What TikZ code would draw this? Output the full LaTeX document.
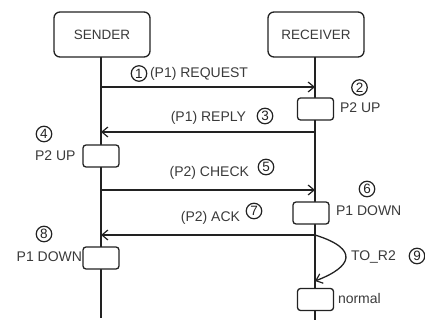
\documentclass[tikz,border=0pt]{standalone}
\usepackage{fontspec}
\setmainfont{Liberation Sans}
\usetikzlibrary{arrows.meta}
\definecolor{ink}{HTML}{222222}
\definecolor{txt}{HTML}{3A3A3A}
\begin{document}
\begin{tikzpicture}[x=1pt,y=-1pt,
  every node/.style={inner sep=0pt,outer sep=0pt},
  actor/.style={draw=ink,line width=1.3pt,rounded corners=6pt,fill=white,minimum width=96pt,minimum height=45pt,text=txt,font=\fontsize{13.5}{15}\selectfont},
  state/.style={draw=ink,line width=1.3pt,rounded corners=3pt,fill=white,minimum width=36pt,minimum height=22pt},
  life/.style={draw=ink,line width=1.3pt},
  msg/.style={draw=ink,line width=1.3pt,-{Straight Barb[length=6pt,width=10pt,line width=1.2pt]}},
  lbl/.style={text=txt,font=\fontsize{14}{16}\selectfont},
  num/.style={draw=ink,circle,line width=1.2pt,minimum size=15.5pt,text=ink,font=\fontsize{13.5}{14}\selectfont}]
\useasboundingbox (0,0) rectangle (425,320);
% actors
\node[actor] (snd) at (102,34.5) {SENDER};
\node[actor] (rcv) at (316,34.5) {RECEIVER};
% lifeline coordinates
\coordinate (sEnd) at (101,318);
\coordinate (rEnd) at (315,320);
\coordinate (s1) at (101,87);  \coordinate (r1) at (315,87);
\coordinate (s3) at (101,132); \coordinate (r3) at (315,132);
\coordinate (s5) at (101,190); \coordinate (r5) at (315,190);
\coordinate (s7) at (101,235); \coordinate (r7) at (315,235);
\coordinate (r9) at (315,281);
\draw[life] (snd.south -| sEnd) -- (sEnd);
\draw[life] (rcv.south -| rEnd) -- (rEnd);
% messages
\draw[msg] (s1) -- (r1);
\draw[msg] (r3) -- (s3);
\draw[msg] (s5) -- (r5);
\draw[msg] (r7) -- (s7);
\draw[msg] (r7) .. controls (360,249) and (352,267) .. (r9);
% state boxes
\node[state] (rs1) at (315.5,109) {};
\node[state] (ss1) at (101,156) {};
\node[state] (rs2) at (311,213) {};
\node[state] (ss2) at (101,258) {};
\node[state] (rs3) at (315.5,299.5) {};
% labels
\node[num] (n1) at (139,73.5) {1};
\node[lbl,anchor=west] (t1) at (150,74) {(P1) REQUEST};
\node[num] (n2) at (359.5,87.5) {2};
\node[lbl,anchor=west] (t2) at (340,108) {P2 UP};
\node[num] (n3) at (265,116) {3};
\node[lbl,anchor=east] (t3) at (246,118) {(P1) REPLY};
\node[num] (n4) at (44,134) {4};
\node[lbl,anchor=west] (t4) at (35,156) {P2 UP};
\node[num] (n5) at (266,167) {5};
\node[lbl,anchor=east] (t5) at (249,173) {(P2) CHECK};
\node[num] (n6) at (367,189) {6};
\node[lbl,anchor=west] (t6) at (336,211) {P1 DOWN};
\node[num] (n7) at (254,211) {7};
\node[lbl,anchor=east] (t7) at (240,218) {(P2) ACK};
\node[num] (n8) at (44,234) {8};
\node[lbl,anchor=east] (t8) at (82,257) {P1 DOWN};
\node[lbl,anchor=west] (t9) at (351,257) {TO\_R2};
\node[num] (n9) at (417,256) {9};
\node[lbl,anchor=west] (t10) at (338,298) {normal};
\end{tikzpicture}
\end{document}
